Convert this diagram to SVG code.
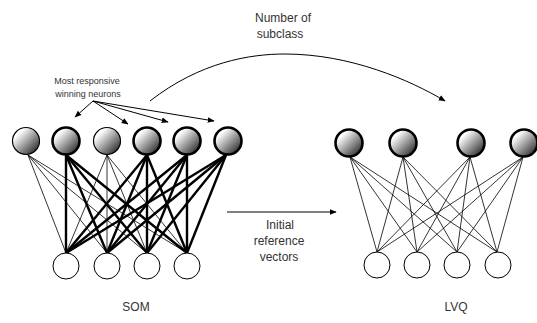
<svg xmlns="http://www.w3.org/2000/svg" width="537" height="323" viewBox="0 0 537 323">
<defs>
<linearGradient id="g" x1="0.15" y1="0.15" x2="0.9" y2="0.9">
<stop offset="0.1" stop-color="#ffffff"/>
<stop offset="1" stop-color="#2a2a2a"/>
</linearGradient>
<marker id="ah" viewBox="0 0 10 10" refX="9" refY="5" markerWidth="7" markerHeight="7" markerUnits="userSpaceOnUse" orient="auto">
<path d="M0,1 L10,5 L0,9 z" fill="#000"/>
</marker>
</defs>
<style>
.top{fill:url(#g);stroke:#000}
.thin{stroke-width:1.2}
.thick{stroke-width:2.6}
.bot{fill:#fff;stroke:#000;stroke-width:1}
.ln{stroke:#000;fill:none}
.w1{stroke-width:0.8}
.w3{stroke-width:2.4}
text{font-family:"Liberation Sans",Arial,sans-serif;fill:#333;text-anchor:middle}
.s{font-size:9px}
.m{font-size:12px}
</style>
<g id="connectors">
<g class="ln w1">
<line x1="28" y1="155" x2="66" y2="253"/><line x1="28" y1="155" x2="107" y2="253"/><line x1="28" y1="155" x2="147" y2="253"/><line x1="28" y1="155" x2="187" y2="253"/>
<line x1="107" y1="155" x2="66" y2="253"/><line x1="107" y1="155" x2="107" y2="253"/><line x1="107" y1="155" x2="147" y2="253"/><line x1="107" y1="155" x2="187" y2="253"/>
</g>
<g class="ln w3">
<line x1="66" y1="155" x2="66" y2="253"/><line x1="66" y1="155" x2="107" y2="253"/><line x1="66" y1="155" x2="147" y2="253"/><line x1="66" y1="155" x2="187" y2="253"/>
<line x1="147" y1="155" x2="66" y2="253"/><line x1="147" y1="155" x2="107" y2="253"/><line x1="147" y1="155" x2="147" y2="253"/><line x1="147" y1="155" x2="187" y2="253"/>
<line x1="187" y1="155" x2="66" y2="253"/><line x1="187" y1="155" x2="107" y2="253"/><line x1="187" y1="155" x2="147" y2="253"/><line x1="187" y1="155" x2="187" y2="253"/>
<line x1="226" y1="155" x2="66" y2="253"/><line x1="226" y1="155" x2="107" y2="253"/><line x1="226" y1="155" x2="147" y2="253"/><line x1="226" y1="155" x2="187" y2="253"/>
</g>
<g class="ln w1">
<line x1="350" y1="157" x2="377" y2="252"/><line x1="350" y1="157" x2="417" y2="252"/><line x1="350" y1="157" x2="457" y2="252"/><line x1="350" y1="157" x2="497" y2="252"/>
<line x1="403" y1="157" x2="377" y2="252"/><line x1="403" y1="157" x2="417" y2="252"/><line x1="403" y1="157" x2="457" y2="252"/><line x1="403" y1="157" x2="497" y2="252"/>
<line x1="470" y1="157" x2="377" y2="252"/><line x1="470" y1="157" x2="417" y2="252"/><line x1="470" y1="157" x2="457" y2="252"/><line x1="470" y1="157" x2="497" y2="252"/>
<line x1="523" y1="157" x2="377" y2="252"/><line x1="523" y1="157" x2="417" y2="252"/><line x1="523" y1="157" x2="457" y2="252"/><line x1="523" y1="157" x2="497" y2="252"/>
</g>
<g class="ln" stroke-width="1">
<line x1="93" y1="101" x2="75" y2="117" marker-end="url(#ah)"/>
<line x1="93" y1="101" x2="128" y2="124" marker-end="url(#ah)"/>
<line x1="93" y1="101" x2="168" y2="122" marker-end="url(#ah)"/>
<line x1="93" y1="101" x2="214" y2="121" marker-end="url(#ah)"/>
<path d="M150,101 C200,62 250,54 285,54 C350,54 410,80 445,101" marker-end="url(#ah)"/>
<line x1="227" y1="212" x2="336" y2="212" marker-end="url(#ah)"/>
</g>
</g>
<g id="som-top-1"><circle class="top thin" cx="26" cy="141" r="13.5"/></g>
<g id="som-top-2"><circle class="top thick" cx="66" cy="141" r="13.5"/></g>
<g id="som-top-3"><circle class="top thin" cx="107" cy="141" r="13.5"/></g>
<g id="som-top-4"><circle class="top thick" cx="147" cy="141" r="13.5"/></g>
<g id="som-top-5"><circle class="top thick" cx="187" cy="141" r="13.5"/></g>
<g id="som-top-6"><circle class="top thick" cx="228" cy="141" r="13.5"/></g>
<g id="som-bot-1"><circle class="bot" cx="66" cy="266" r="13"/></g>
<g id="som-bot-2"><circle class="bot" cx="107" cy="266" r="13"/></g>
<g id="som-bot-3"><circle class="bot" cx="147" cy="266" r="13"/></g>
<g id="som-bot-4"><circle class="bot" cx="187" cy="266" r="13"/></g>
<g id="lvq-top-1"><circle class="top thick" cx="349" cy="143" r="13.5"/></g>
<g id="lvq-top-2"><circle class="top thick" cx="403" cy="143" r="13.5"/></g>
<g id="lvq-top-3"><circle class="top thick" cx="471" cy="143" r="13.5"/></g>
<g id="lvq-top-4"><circle class="top thick" cx="524" cy="143" r="13.5"/></g>
<g id="lvq-bot-1"><circle class="bot" cx="377" cy="265" r="13"/></g>
<g id="lvq-bot-2"><circle class="bot" cx="417" cy="265" r="13"/></g>
<g id="lvq-bot-3"><circle class="bot" cx="457" cy="265" r="13"/></g>
<g id="lvq-bot-4"><circle class="bot" cx="498" cy="265" r="13"/></g>
<g id="labels">
<text class="s" x="87" y="84">Most responsive</text>
<text class="s" x="88" y="97">winning neurons</text>
<text class="m" x="283" y="22">Number of</text>
<text class="m" x="280" y="38">subclass</text>
<text class="m" x="280" y="229">Initial</text>
<text class="m" x="279" y="245">reference</text>
<text class="m" x="279" y="261">vectors</text>
<text class="m" x="136" y="311">SOM</text>
<text class="m" x="456" y="311">LVQ</text>
</g>
</svg>
